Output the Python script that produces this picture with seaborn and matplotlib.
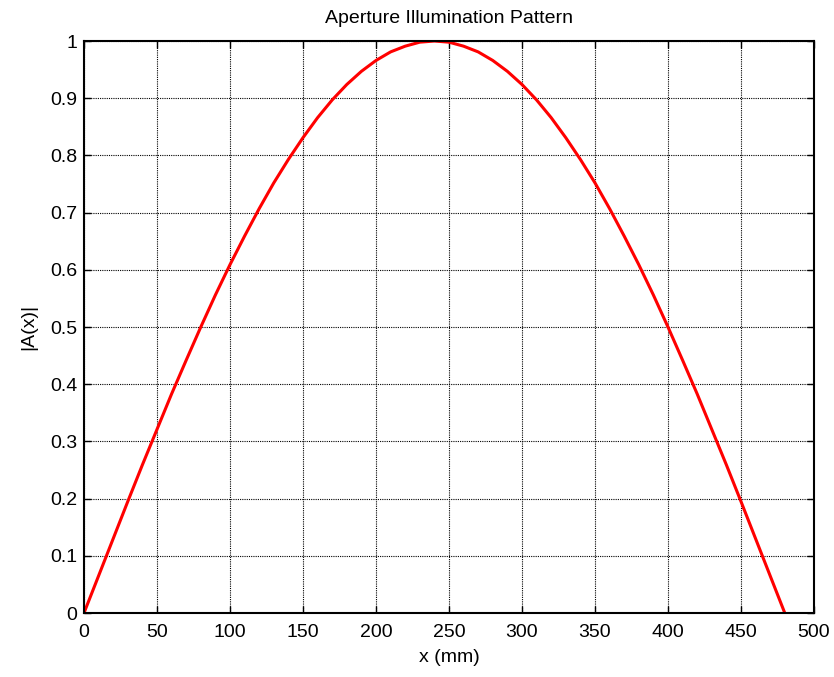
import matplotlib
matplotlib.use("Agg")
import matplotlib.pyplot as plt
import seaborn as sns
import pandas as pd

x_mm = [0, 10, 20, 30, 40, 50, 60, 70, 80, 90, 100, 110, 120, 130, 140, 150,
        160, 170, 180, 190, 200, 210, 220, 230, 240, 250, 260, 270, 280, 290,
        300, 310, 320, 330, 340, 350, 360, 370, 380, 390, 400, 410, 420, 430,
        440, 450, 460, 470, 480]
amplitude = [0.0, 0.065, 0.13, 0.195, 0.259, 0.321, 0.383, 0.442, 0.5, 0.556,
             0.609, 0.659, 0.707, 0.752, 0.793, 0.831, 0.866, 0.897, 0.924,
             0.947, 0.966, 0.981, 0.991, 0.998, 1.0, 0.998, 0.991, 0.981,
             0.966, 0.947, 0.924, 0.897, 0.866, 0.831, 0.793, 0.752, 0.707,
             0.659, 0.609, 0.556, 0.5, 0.442, 0.383, 0.321, 0.259, 0.195,
             0.13, 0.065, 0.0]
x_ticks = [0, 50, 100, 150, 200, 250, 300, 350, 400, 450, 500]
y_ticks = [0, 0.1, 0.2, 0.3, 0.4, 0.5, 0.6, 0.7, 0.8, 0.9, 1]
y_tick_labels = ["0", "0.1", "0.2", "0.3", "0.4", "0.5", "0.6", "0.7", "0.8", "0.9", "1"]

sns.set_theme(style="white")
plt.rcParams['font.family'] = ['Liberation Sans', 'DejaVu Sans']

df = pd.DataFrame({"x": x_mm, "A": amplitude})

fig = plt.figure(figsize=(8.34, 6.77), dpi=100)
ax = fig.add_axes([0.1007, 0.0945, 0.8753, 0.8449])
sns.lineplot(data=df, x="x", y="A", color="red", linewidth=2.2, ax=ax)

ax.set_xlim(0, 500)
ax.set_ylim(0, 1)
ax.set_xticks(x_ticks)
ax.set_xticklabels([str(t) for t in x_ticks])
ax.set_yticks(y_ticks)
ax.set_yticklabels(y_tick_labels)
ax.grid(True, color="black", linestyle=(0, (1, 1)), linewidth=0.8)
ax.tick_params(direction="in", length=5, width=1, colors="black", labelsize=14,
               top=True, right=True, bottom=True, left=True,
               labeltop=False, labelright=False)
ax.tick_params(axis="x", pad=8)
ax.tick_params(axis="y", pad=5)
for s in ax.spines.values():
    s.set_color("black")
    s.set_linewidth(1.5)
ax.set_xlabel("x (mm)", fontsize=14, color="black", labelpad=6)
ax.set_ylabel("|A(x)|", fontsize=14, color="black", labelpad=9)
ax.set_title("Aperture Illumination Pattern", fontsize=14, color="black", pad=13)

fig.savefig("out.png", dpi=100, facecolor="white")
